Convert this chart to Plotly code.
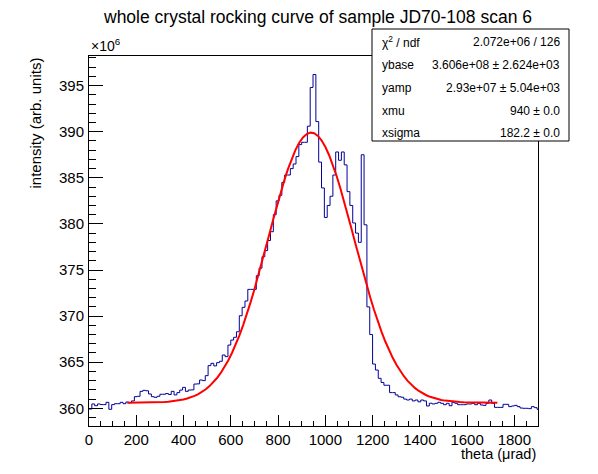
import numpy as np
import plotly.graph_objects as go

# histogram: theta bins of 12 urad starting at 0, intensity in units of 1e6
bin_width = 12
intensity_e6 = [
    359.92, 360.47, 360.28, 360.47, 360.40, 360.40, 360.65, 359.89, 360.40, 360.50,
    360.50, 360.65, 360.50, 360.68, 360.60, 360.80, 361.26, 361.30, 361.84, 361.95,
    361.90, 361.55, 361.26, 361.19, 361.30, 361.52, 361.52, 361.60, 361.50, 361.84,
    361.45, 361.70, 361.98, 362.27, 361.84, 361.98, 362.00, 362.63, 362.65, 363.07,
    363.00, 363.54, 364.63, 364.88, 364.60, 364.95, 365.10, 365.78, 365.60, 366.86,
    367.40, 367.70, 368.30, 370.04, 370.95, 371.64, 372.90, 372.90, 372.90, 374.38,
    375.20, 376.44, 377.10, 378.20, 379.15, 381.00, 382.50, 383.10, 384.50, 385.30,
    385.30, 386.00, 386.50, 387.30, 388.60, 388.85, 388.85, 390.60, 394.80, 396.20,
    391.10, 386.70, 383.90, 380.70, 382.00, 383.00, 385.30, 387.80, 386.90, 387.80,
    386.40, 383.50, 382.00, 380.10, 379.00, 378.00, 387.50, 379.90, 371.00, 368.00,
    364.80, 364.15, 363.25, 362.80, 362.50, 362.50, 361.70, 361.70, 361.45, 361.25,
    361.20, 361.00, 360.90, 361.00, 360.80, 360.90, 360.70, 360.90, 360.80, 360.25,
    360.55, 360.47, 360.54, 360.65, 360.54, 360.39, 360.54, 360.28, 360.65, 360.54,
    360.39, 360.39, 360.39, 360.47, 360.47, 360.54, 360.39, 360.54, 360.36, 360.32,
    360.54, 360.90, 360.54, 360.10, 360.10, 360.10, 360.43, 360.43, 360.18, 360.25,
    360.32, 360.18, 360.03, 360.00, 360.00, 359.96, 360.18, 360.07, 359.89,
]

# gaussian fit, parameters as shown in the stats box
ybase = 3.606e8
yamp = 2.93e7
xmu = 940.0
xsigma = 182.2
fit_range = [162, 1728]

stat_labels = ["\u03c7<sup>2</sup> / ndf", "ybase", "yamp", "xmu", "xsigma"]
stat_values = ["2.072e+06 / 126", "3.606e+08 \u00b1 2.624e+03", "2.93e+07 \u00b1 5.04e+03",
               "940 \u00b1 0.0", "182.2 \u00b1 0.0"]

FONT = "Liberation Sans, Arial, sans-serif"

# page body has an 8px margin, so the figure is 8px smaller and shifted
W, H = 590, 466
ML, MT, PW, PH = 81, 48, 449, 370

edges = [i * bin_width for i in range(len(intensity_e6) + 1)]
hx = edges
hy = intensity_e6 + [intensity_e6[-1]]

fx = np.linspace(fit_range[0], fit_range[1], 100)
fy = (ybase + yamp * np.exp(-0.5 * ((fx - xmu) / xsigma) ** 2)) / 1e6

fig = go.Figure()
fig.add_trace(go.Scatter(x=hx, y=hy, mode="lines", line=dict(color="#000099", width=1, shape="hv"),
                         hoverinfo="skip"))
fig.add_trace(go.Scatter(x=fx, y=fy, mode="lines", line=dict(color="#ff0000", width=2), hoverinfo="skip"))

fig.update_layout(
    width=W,
    height=H,
    showlegend=False,
    paper_bgcolor="white",
    plot_bgcolor="white",
    margin=dict(l=ML, r=W - ML - PW, t=MT, b=H - MT - PH),
    font=dict(family=FONT, color="black", size=15),
    title=dict(text="whole crystal rocking curve of sample JD70-108 scan 6", x=310 / W, xanchor="center",
               y=1 - 9 / H, yanchor="middle", yref="container", font=dict(size=17.5, family=FONT)),
)
fig.update_xaxes(
    range=[0, 1900], dtick=200, tick0=0, ticks="inside", ticklen=11, tickcolor="black",
    minor=dict(dtick=50, ticks="inside", ticklen=5.5, tickcolor="black"),
    showgrid=False, zeroline=False, showline=True, linecolor="black", linewidth=1, mirror=True,
    tickfont=dict(size=15),
)
fig.update_yaxes(
    range=[358.08, 398.21], dtick=5, tick0=360, ticks="inside", ticklen=14, tickcolor="black",
    minor=dict(dtick=1, ticks="inside", ticklen=7, tickcolor="black"),
    showgrid=False, zeroline=False, showline=True, linecolor="black", linewidth=1, mirror=True,
    tickfont=dict(size=15), ticklabelstandoff=1,
)


def px_x(p):
    return (p - 8 - ML) / PW


def px_y(p):
    return (MT + PH - (p - 8)) / PH


fig.add_annotation(text="intensity (arb. units)", xref="paper", yref="paper", x=px_x(35), y=1,
                   xanchor="center", yanchor="top", textangle=-90, showarrow=False, font=dict(size=15))
fig.add_annotation(text="theta (\u03bcrad)", xref="paper", yref="paper", x=1, y=px_y(454),
                   xanchor="right", yanchor="middle", showarrow=False, font=dict(size=14.5))
fig.add_annotation(text="\u00d710<sup>6</sup>", xref="paper", yref="paper", x=0, y=1,
                   xanchor="left", yanchor="bottom", showarrow=False, font=dict(size=14))

# stats box
fig.add_shape(type="rect", xref="paper", yref="paper", x0=px_x(372), x1=px_x(569), y0=px_y(141),
              y1=px_y(29), line=dict(color="black", width=1), fillcolor="white", layer="above")
row_px = [42, 65, 88, 110.5, 133]
for lab, val, py in zip(stat_labels, stat_values, row_px):
    fig.add_annotation(text=lab, xref="paper", yref="paper", x=px_x(380), y=px_y(py), xanchor="left",
                       yanchor="middle", showarrow=False, font=dict(size=12))
    fig.add_annotation(text=val, xref="paper", yref="paper", x=px_x(562), y=px_y(py), xanchor="right",
                       yanchor="middle", showarrow=False, font=dict(size=12))

fig.write_html("out.html")
